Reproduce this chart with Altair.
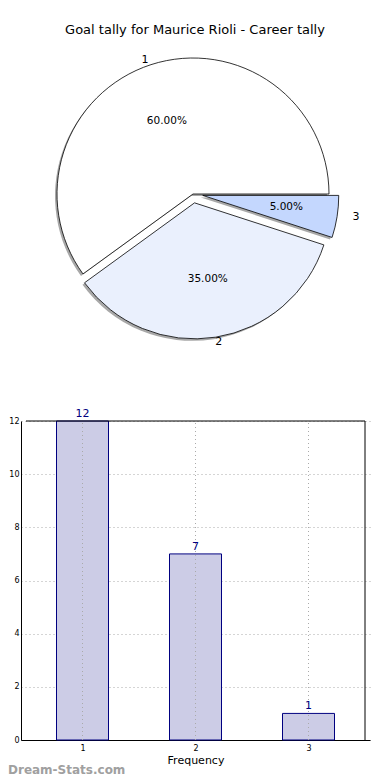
import altair as alt
import pandas as pd

# ---------------- data ----------------
title_text = "Goal tally for Maurice Rioli - Career tally"
slice_labels = ["1", "2", "3"]
slice_goals = [12, 7, 1]
bar_categories = [1, 2, 3]
bar_counts = [12, 7, 1]
y_ticks = [0, 2, 4, 6, 8, 10, 12]
x_title = "Frequency"
y_title = "Goals Kicked"
watermark_text = "Dream-Stats.com"

# ---------------- styling / geometry ----------------
FONT = "DejaVu Sans"
slice_colors = ["#ffffff", "#eaf0fd", "#c4d7fe"]
PAD_L = 13
CX, CY = 193 - 8 - PAD_L, 186   # pie centre (chart px)
R = 136                         # arc radius
RX, RY = 141, 128               # label ellipse radii
EXPLODE = 0.07
W, H = 370 - 8 - PAD_L, 732

pie_df = pd.DataFrame({"label": slice_labels, "goals": slice_goals,
                       "ord": list(range(len(slice_labels)))})
bar_df = pd.DataFrame({"cat": bar_categories, "goals": bar_counts})
title_df = pd.DataFrame({"t": [title_text]})
wm_df = pd.DataFrame({"t": [watermark_text]})
one_df = pd.DataFrame({"a": [0]})

pie_base = (
    alt.Chart(pie_df)
    .transform_joinaggregate(total="sum(goals)")
    .transform_window(cum="sum(goals)", sort=[alt.SortField("ord")], frame=[None, 0])
    .transform_calculate(
        a0="2*PI*(datum.cum-datum.goals)/datum.total",
        a1="2*PI*datum.cum/datum.total",
    )
    .transform_calculate(
        mid="(datum.a0+datum.a1)/2",
        t0="2.5*PI - datum.a1",
        t1="2.5*PI - datum.a0",
        ex=f"datum.label == '{slice_labels[0]}' ? 0 : {EXPLODE}",
        pct="format(100*datum.goals/datum.total, '.2f') + '%'",
    )
    .transform_calculate(
        px=f"{CX} + datum.ex*{RX}*cos(datum.mid)",
        py=f"{CY} - datum.ex*{RY}*sin(datum.mid)",
    )
    .transform_calculate(
        sx="datum.px - 2",
        sy="datum.py + 2",
        lx=f"datum.px + 1.1*{RX}*cos(datum.mid)",
        ly=f"datum.py - 1.1*{RY}*sin(datum.mid)",
        tx=f"datum.px + 0.6*{RX}*cos(datum.mid)",
        ty=f"datum.py - 0.6*{RY}*sin(datum.mid)",
    )
)

shadow = pie_base.mark_arc(radius=R, fill="#a8a8a8", strokeWidth=0).encode(
    x=alt.X("sx:Q", scale=None, axis=None),
    y=alt.Y("sy:Q", scale=None, axis=None),
    theta=alt.Theta("t0:Q", scale=None),
    theta2="t1:Q",
)

slices = pie_base.mark_arc(radius=R, stroke="black", strokeWidth=0.8).encode(
    x=alt.X("px:Q", scale=None, axis=None),
    y=alt.Y("py:Q", scale=None, axis=None),
    theta=alt.Theta("t0:Q", scale=None),
    theta2="t1:Q",
    fill=alt.Fill("label:N", scale=alt.Scale(domain=slice_labels, range=slice_colors), legend=None),
)

outer_labels = pie_base.mark_text(font=FONT, fontSize=11, color="black").encode(
    x=alt.X("lx:Q", scale=None, axis=None),
    y=alt.Y("ly:Q", scale=None, axis=None),
    text="label:N",
)

pct_labels = pie_base.mark_text(font=FONT, fontSize=10.5, color="black").encode(
    x=alt.X("tx:Q", scale=None, axis=None),
    y=alt.Y("ty:Q", scale=None, axis=None),
    text="pct:N",
)

title = alt.Chart(title_df).mark_text(font=FONT, fontSize=13, color="black").encode(
    x=alt.value(195 - 8 - PAD_L), y=alt.value(22), text="t:N"
)

watermark = alt.Chart(wm_df).mark_text(
    font=FONT, fontSize=12, fontWeight="bold", color="#a0a0a0", align="left"
).encode(x=alt.value(-PAD_L), y=alt.value(762), text="t:N")

# ---------------- bar chart ----------------
xscale = alt.Scale(domain=[0.5, 3.5], range=[0, W], nice=False, zero=False)
yscale = alt.Scale(domain=[0, 12], range=[H, 413], nice=False)

x_axis = alt.Axis(values=bar_categories, format="d", title=x_title, grid=False, ticks=False,
                  labelFontSize=8, labelFont=FONT, labelColor="black", labelPadding=4,
                  titleFont=FONT, titleFontSize=11, titleFontWeight="normal", titleColor="black",
                  titlePadding=2, domainColor="black", labelAngle=0)
y_axis = alt.Axis(values=y_ticks, format="d", title=y_title, grid=True, gridDash=[1, 3],
                  gridColor="#aaaaaa", gridWidth=1, ticks=False,
                  labelFontSize=8, labelFont=FONT, labelColor="black", labelPadding=2,
                  titleFont=FONT, titleFontSize=11, titleFontWeight="normal", titleColor="black",
                  titlePadding=12, domainColor="black")

bars = alt.Chart(bar_df).mark_bar(size=52, fill="#ccccE6", stroke="#000080", strokeWidth=1).encode(
    x=alt.X("cat:Q", scale=xscale, axis=x_axis),
    y=alt.Y("goals:Q", scale=yscale, axis=y_axis),
)

vgrid = alt.Chart(bar_df).mark_rule(strokeDash=[1, 3], color="#aaaaaa", strokeWidth=1).encode(
    x=alt.X("cat:Q"), y=alt.datum(0), y2=alt.datum(12)
)

top_frame = alt.Chart(one_df).mark_rule(color="black", strokeWidth=1).encode(
    x=alt.datum(0.5), x2=alt.datum(3.5), y=alt.datum(12)
)
right_frame = alt.Chart(one_df).mark_rule(color="black", strokeWidth=1).encode(
    x=alt.datum(3.5), y=alt.datum(0), y2=alt.datum(12)
)

bar_labels = alt.Chart(bar_df).mark_text(
    font=FONT, fontSize=11, color="#000080", baseline="bottom", dy=-2
).encode(x="cat:Q", y="goals:Q", text="goals:Q")

chart = alt.layer(
    bars, vgrid, top_frame, right_frame, bar_labels,
    shadow, slices, outer_labels, pct_labels, title, watermark,
).properties(
    width=W, height=H,
    autosize=alt.AutoSizeParams(type="none"),
    padding={"left": PAD_L, "top": 0, "right": 390 - 16 - PAD_L - W, "bottom": 40},
).configure_view(stroke=None)

chart.save("out.html", embed_options={"renderer": "svg", "actions": False})
